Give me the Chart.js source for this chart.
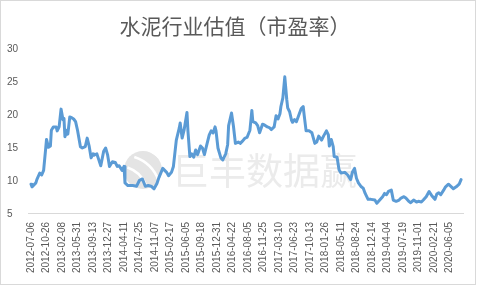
<!DOCTYPE html>
<html>
<head>
<meta charset="utf-8">
<script src="https://cdn.jsdelivr.net/npm/chart.js@4/dist/chart.umd.min.js"></script>
<style>
    body { margin: 0; background: #ffffff; }
    #myChart { display: block; }
</style>
</head>
<body>
<canvas id="myChart" width="480" height="288"></canvas>
<script>
// Axis tick labels (one every 16 weeks)
const tickLabels = ['2012-07-06', '2012-10-26', '2013-02-08', '2013-05-31', '2013-09-13', '2013-12-27',
    '2014-04-11', '2014-07-25', '2014-11-07', '2015-02-17', '2015-06-05', '2015-09-18', '2015-12-31',
    '2016-04-22', '2016-08-05', '2016-11-25', '2017-03-10', '2017-06-23', '2017-10-13', '2018-01-26',
    '2018-05-11', '2018-08-24', '2018-12-14', '2019-04-04', '2019-07-19', '2019-11-01', '2020-02-21',
    '2020-06-05'];

// Week index of each reading (0 = 2012-07-06)
const weekIdx = [0, 1, 5, 6, 9, 11, 13, 15, 16, 18, 20, 21, 23, 26, 27, 29, 31, 33, 34, 35, 37, 38,
    40, 42, 44, 46, 48, 51, 53, 56, 58, 60, 62, 64, 65, 68, 70, 72, 75, 77, 79, 81, 84, 87, 89, 91,
    94, 96, 97, 100, 105, 109, 112, 115, 118, 121, 124, 127, 130, 132, 136, 140, 142, 145, 147, 150,
    153, 154, 156, 158, 161, 162, 164, 166, 168, 170, 172, 175, 177, 179, 181, 184, 186, 188, 190,
    191, 193, 196, 198, 201, 203, 204, 207, 209, 211, 214, 216, 218, 221, 223, 226, 228, 229, 232,
    234, 236, 239, 241, 244, 246, 248, 251, 253, 255, 257, 258, 260, 262, 264, 265, 267, 269, 270,
    272, 274, 277, 279, 281, 282, 284, 287, 290, 293, 295, 297, 300, 302, 305, 307, 308, 310, 312,
    313, 316, 318, 320, 324, 327, 330, 332, 334, 336, 338, 341, 343, 345, 348, 351, 355, 357, 360,
    363, 365, 367, 369, 372, 374, 377, 380, 382, 385, 387, 390, 392, 395, 398, 400, 403, 405, 408,
    411, 414, 417, 419, 421, 423, 426, 428, 431, 434, 436, 439, 442, 444];

// Cement industry P/E
const peValues = [9.5, 9.1, 9.7, 10.2, 11.2, 10.9, 11.6, 14.7, 16.3, 15.1, 15.3, 17.7, 18.2, 18.2,
    17.6, 18.2, 20.9, 19.3, 19.5, 16.7, 17.7, 17.1, 19.7, 19.6, 19.4, 19.0, 17.7, 15.2, 15.0, 15.2,
    16.5, 15.3, 13.5, 14.1, 13.9, 14.1, 13.2, 12.3, 14.5, 15.0, 14.0, 12.2, 12.9, 12.8, 12.2, 12.3,
    11.6, 12.2, 9.7, 9.3, 9.3, 9.2, 10.1, 10.3, 9.2, 9.3, 9.2, 8.8, 9.6, 10.5, 11.9, 11.3, 10.8,
    11.3, 12.2, 16.2, 18.0, 18.8, 16.5, 17.7, 20.4, 17.6, 13.7, 14.1, 13.6, 14.7, 14.0, 15.3, 15.0,
    14.0, 15.2, 17.0, 17.6, 17.3, 18.2, 17.6, 15.0, 13.5, 13.2, 14.1, 15.5, 18.4, 20.3, 18.3, 15.7,
    15.9, 15.7, 16.0, 16.5, 16.6, 17.7, 20.7, 19.0, 18.8, 18.4, 17.3, 18.6, 18.5, 18.2, 18.1, 17.8,
    18.2, 19.9, 19.4, 20.2, 21.3, 22.6, 25.8, 22.4, 21.1, 20.5, 19.2, 18.9, 19.3, 19.0, 20.2, 21.0,
    21.3, 20.0, 17.6, 17.6, 17.3, 15.7, 15.9, 16.8, 16.2, 16.8, 17.6, 17.0, 15.3, 16.3, 15.2, 13.7,
    13.6, 11.7, 11.2, 11.3, 10.9, 10.2, 11.4, 11.9, 10.4, 9.7, 9.1, 8.9, 8.1, 7.2, 7.2, 7.1, 6.6,
    7.1, 7.6, 8.1, 7.9, 8.4, 8.6, 7.1, 6.9, 7.1, 7.4, 7.6, 7.4, 6.9, 6.7, 7.1, 6.8, 6.9, 6.8, 7.1,
    7.6, 8.4, 7.7, 7.2, 8.0, 8.2, 7.9, 8.6, 9.1, 9.5, 9.1, 8.8, 9.1, 9.5, 10.2];

const yTicks = [5, 10, 15, 20, 25, 30];

const textColor = '#595959';
const axisFont = { family: "'Liberation Sans', 'DejaVu Sans', sans-serif", size: 10 };

// Watermark + outer frame, drawn behind the line
const watermarkPlugin = {
    id: 'watermark',
    beforeDatasetsDraw(chart) {
        const ctx = chart.ctx;
        ctx.save();
        // logo ball
        ctx.fillStyle = '#e4e4e4';
        ctx.beginPath();
        ctx.arc(143, 170, 19, 0, Math.PI * 2);
        ctx.fill();
        ctx.strokeStyle = '#ffffff';
        ctx.lineWidth = 2.5;
        for (let k = 0; k < 3; k++) {
            ctx.beginPath();
            ctx.arc(118 + k * 4, 196 - k * 2, 30 + k * 9, -1.25, -0.35);
            ctx.stroke();
        }
        // text
        ctx.fillStyle = '#ebebeb';
        ctx.font = "37px 'Noto Sans CJK SC', sans-serif";
        ctx.textAlign = 'left';
        ctx.textBaseline = 'middle';
        ctx.fillText('巨丰数据赢', 172, 171);
        ctx.restore();
    },
    afterDraw(chart) {
        // light frame round the whole chart
        const ctx = chart.ctx;
        ctx.save();
        ctx.strokeStyle = '#d9d9d9';
        ctx.lineWidth = 1;
        ctx.strokeRect(0.5, 0.5, 475, 284);
        ctx.restore();
    }
};

function createChart() {
    const ctx = document.getElementById('myChart').getContext('2d');
    const points = weekIdx.map((w, i) => ({ x: w, y: peValues[i] }));

    window.myChart = new Chart(ctx, {
        type: 'line',
        data: {
            datasets: [{
                label: '市盈率',
                data: points,
                borderColor: '#5b9bd5',
                borderWidth: 3,
                pointRadius: 0,
                tension: 0,
                borderJoinStyle: 'round',
                borderCapStyle: 'round'
            }]
        },
        options: {
            responsive: false,
            devicePixelRatio: 1,
            animation: false,
            layout: { padding: { left: 7, right: 17, top: 0, bottom: 15 } },
            scales: {
                x: {
                    type: 'linear',
                    min: -3,
                    max: 446,
                    afterBuildTicks: (axis) => {
                        axis.ticks = tickLabels.map((_, i) => ({ value: i * 16 }));
                    },
                    grid: { display: false, drawTicks: true, tickLength: 8 },
                    border: { color: '#d9d9d9', width: 1 },
                    ticks: {
                        autoSkip: false,
                        minRotation: 90,
                        maxRotation: 90,
                        padding: 0,
                        color: textColor,
                        font: axisFont,
                        callback: (v) => tickLabels[Math.round(v / 16)]
                    }
                },
                y: {
                    min: 5,
                    max: 30,
                    afterBuildTicks: (axis) => {
                        axis.ticks = yTicks.map(v => ({ value: v }));
                    },
                    grid: { display: false, drawTicks: false },
                    border: { display: false },
                    ticks: {
                        crossAlign: 'far',
                        padding: 5, // counted twice by the layout -> axis ends near x=28
                        color: textColor,
                        font: axisFont
                    }
                }
            },
            plugins: {
                legend: { display: false },
                tooltip: { enabled: false },
                title: {
                    display: true,
                    text: '水泥行业估值（市盈率）',
                    color: textColor,
                    font: { family: "'Noto Sans CJK SC', sans-serif", size: 21, weight: 'normal' },
                    padding: { top: 13, bottom: 11 }
                }
            }
        },
        plugins: [watermarkPlugin]
    });
}

createChart();
</script>
</body>
</html>
